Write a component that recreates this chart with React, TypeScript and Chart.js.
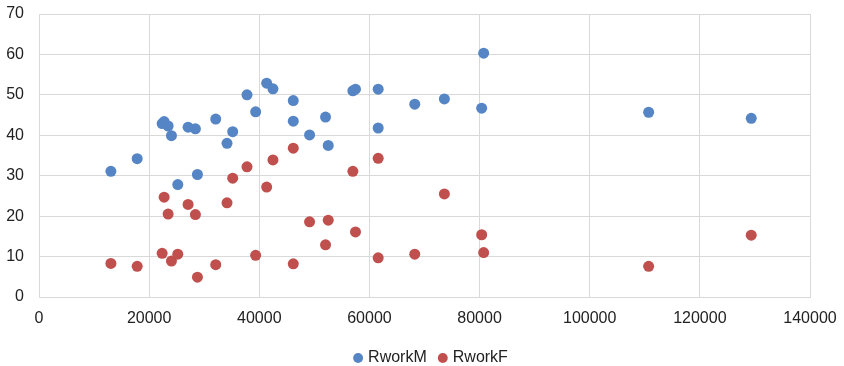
import React, { useEffect, useRef } from "react";
import { Chart, registerables } from "chart.js";

Chart.register(...registerables);

// Income (x) shared by both series
const incomeX = [
  13054, 17828, 22360, 22723, 23444, 24050, 25200, 27070, 28400, 28770,
  32090, 34140, 35170, 37770, 39340, 41340, 42480, 46170, 46170, 49130,
  52030, 52520, 56990, 57470, 61590, 61590, 68230, 73610, 80380, 80740,
  110700, 129330,
];

const rworkM = [
  31.1, 34.2, 42.9, 43.4, 42.3, 39.9, 27.8, 42.0, 41.6, 30.3,
  44.0, 38.0, 40.9, 50.0, 45.8, 52.9, 51.5, 48.6, 43.5, 40.1,
  44.5, 37.5, 51.0, 51.4, 51.4, 41.8, 47.7, 49.0, 46.7, 60.3,
  45.7, 44.2,
];

const rworkF = [
  8.3, 7.6, 10.8, 24.7, 20.5, 8.9, 10.6, 22.9, 20.4, 4.9,
  8.0, 23.3, 29.4, 32.2, 10.3, 27.2, 33.9, 36.8, 8.2, 18.6,
  12.9, 19.0, 31.1, 16.1, 34.3, 9.7, 10.6, 25.5, 15.4, 11.0,
  7.6, 15.3,
];

const seriesNames = ["RworkM", "RworkF"];
const seriesColors = ["#5585C5", "#C0504D"];

const FONT = "'Liberation Sans', Arial, Helvetica, sans-serif";

export default function App() {
  const ref = useRef<HTMLCanvasElement | null>(null);

  useEffect(() => {
    document.body.style.margin = "0";
    const canvas = ref.current;
    if (!canvas) return;

    const toPoints = (ys: number[]) => incomeX.map((x, i) => ({ x, y: ys[i] }));

    const legendShift = {
      id: "legendShift",
      afterLayout(chart: any) {
        const lg = chart.legend;
        if (!lg) return;
        const h = lg.bottom - lg.top;
        lg.left += 27;
        lg.right += 27;
        lg.top = 336;
        lg.bottom = lg.top + h;
      },
    };

    const chart = new Chart(canvas, {
      type: "scatter",
      data: {
        datasets: [
          {
            label: seriesNames[0],
            data: toPoints(rworkM),
            backgroundColor: seriesColors[0],
            borderColor: seriesColors[0],
            borderWidth: 0,
            pointRadius: 5.5,
            pointHoverRadius: 5.5,
          },
          {
            label: seriesNames[1],
            data: toPoints(rworkF),
            backgroundColor: seriesColors[1],
            borderColor: seriesColors[1],
            borderWidth: 0,
            pointRadius: 5.5,
            pointHoverRadius: 5.5,
          },
        ],
      },
      options: {
        animation: false,
        responsive: true,
        maintainAspectRatio: false,
        layout: { autoPadding: false, padding: { top: 14, right: 34, left: 0, bottom: 0 } },
        plugins: {
          tooltip: { enabled: false },
          legend: {
            position: "bottom",
            labels: {
              usePointStyle: true,
              pointStyle: "circle",
              boxWidth: 4,
              boxHeight: 7,
              padding: 14,
              color: "#222",
              font: { family: FONT, size: 16 },
            },
          },
        },
        scales: {
          x: {
            type: "linear",
            min: 0,
            max: 140000,
            ticks: {
              stepSize: 20000,
              padding: 12,
              color: "#222",
              font: { family: FONT, size: 16 },
              maxRotation: 0,
              autoSkip: false,
              callback: (v: any) => String(v),
            },
            grid: { color: "#d9d9d9", lineWidth: 1, drawTicks: false },
            border: { color: "#d9d9d9" },
            afterFit(scale: any) {
              scale.height = 29;
              scale.paddingLeft = 0;
              scale.paddingRight = 0;
            },
          },
          y: {
            type: "linear",
            min: 0,
            max: 70,
            ticks: {
              stepSize: 10,
              padding: 15,
              color: "#222",
              font: { family: FONT, size: 16 },
              callback: (v: any) => String(v),
            },
            grid: { color: "#d9d9d9", lineWidth: 1, drawTicks: false },
            border: { color: "#d9d9d9" },
            afterFit(scale: any) {
              scale.width = 39;
              scale.paddingTop = 0;
              scale.paddingBottom = 0;
            },
          },
        },
      },
      plugins: [legendShift],
    });

    return () => chart.destroy();
  }, []);

  return (
    <div style={{ position: "relative", width: 844, height: 366 }}>
      <canvas ref={ref} />
    </div>
  );
}
